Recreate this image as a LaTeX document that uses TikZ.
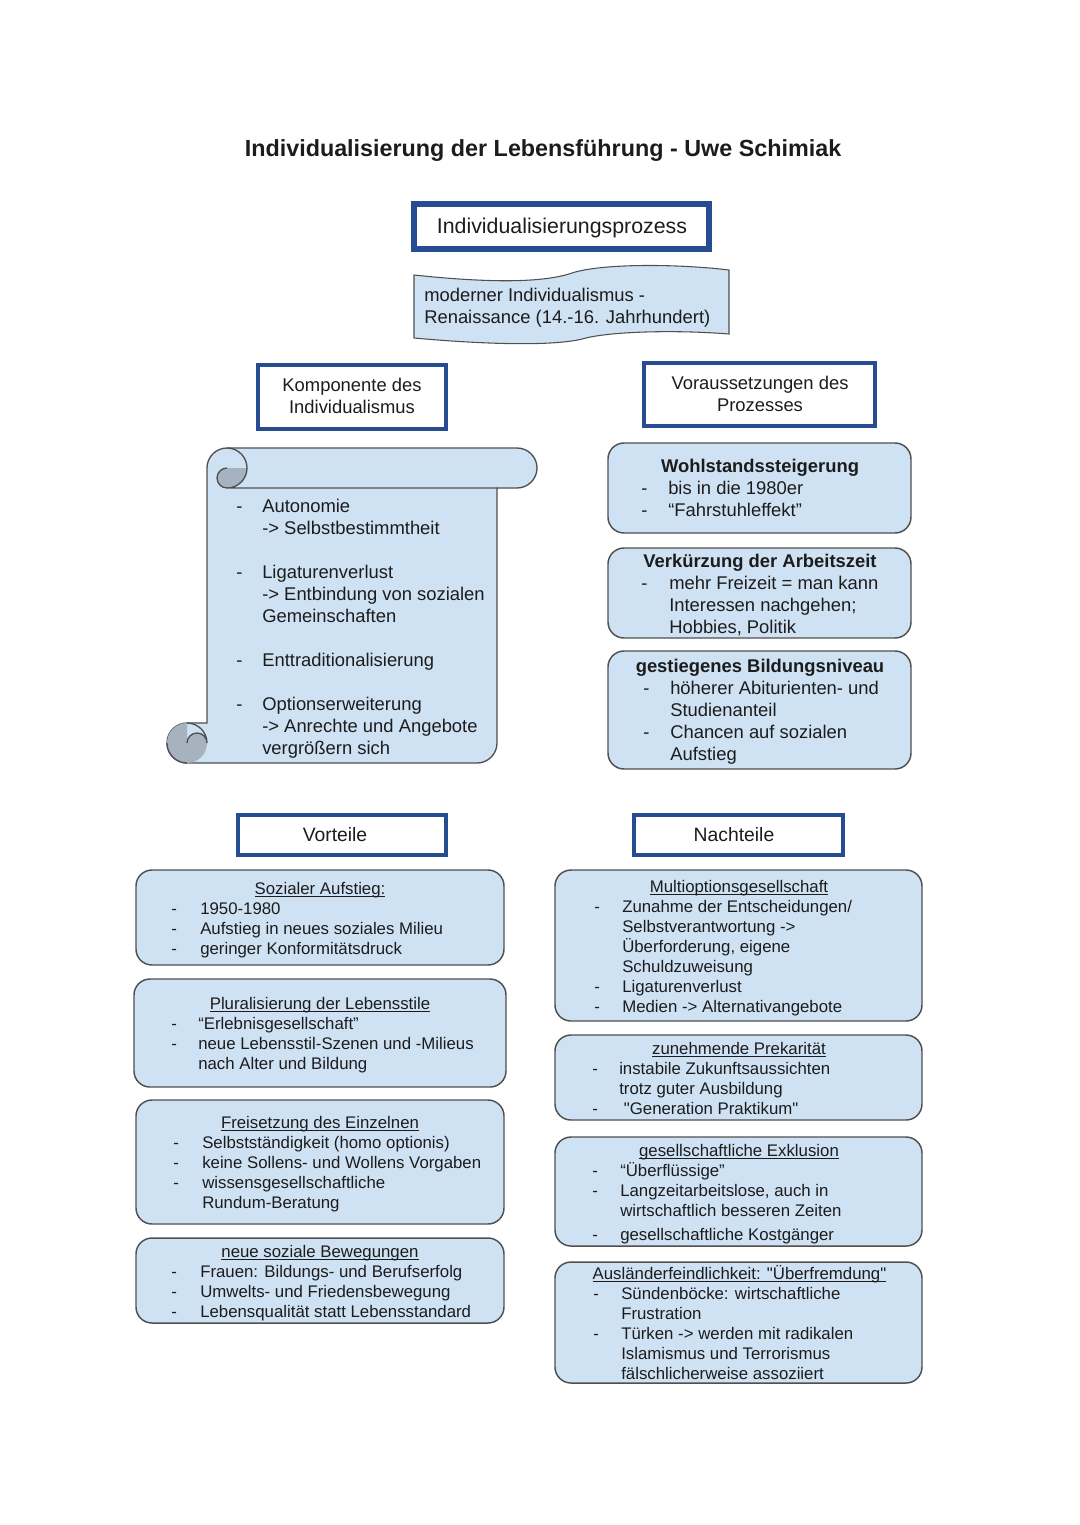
\documentclass[tikz,border=0pt]{standalone}
\usepackage{fontspec}
\setmainfont{Liberation Sans}[Ligatures=TeXOff]
\usepackage{tikz}

\definecolor{boxfill}{RGB}{207,226,243}
\definecolor{frameblue}{RGB}{38,76,146}
\definecolor{edgegray}{RGB}{80,80,80}
\definecolor{curlgray}{RGB}{166,178,192}
\definecolor{inkgray}{RGB}{28,28,28}

\newcommand{\titleline}[1]{\setbox0\hbox{#1}\rlap{\rule[-2pt]{\wd0}{0.7pt}}\box0}

\tikzset{
  headframe/.style={draw=frameblue, line width=3pt, fill=white},
  infobox/.style={draw=edgegray, line width=1.1pt, fill=boxfill, rounded corners=12pt},
  wavebox/.style={draw=edgegray, line width=0.8pt, fill=boxfill},
  scrollbody/.style={draw=edgegray, line width=1pt, fill=boxfill},
  scrolledge/.style={draw=edgegray, line width=1pt},
  bigtext/.style={font=\fontsize{13.8}{16.5}\selectfont, text=inkgray, inner sep=0pt},
  smalltext/.style={font=\fontsize{12.6}{15}\selectfont, text=inkgray, inner sep=0pt},
}

\begin{document}
\begin{tikzpicture}[x=0.75pt,y=0.75pt,yscale=-1,xscale=1]
\path [use as bounding box, fill=white] (0,0) rectangle (1080,1525);

% Text Node
\draw (543,156) node (title) [anchor=base][inner sep=0pt, text=inkgray] {\fontsize{17.5}{21}\selectfont\bfseries Individualisierung der Lebensführung - Uwe Schimiak};

%Shape: Rectangle
\draw [headframe, line width=4.5pt] (414,204) rectangle (709,249) ;
% Text Node
\draw (562,233.5) node (prozess) [anchor=base][inner sep=0pt, text=inkgray] {\fontsize{16}{19}\selectfont Individualisierungsprozess};

%Shape: Wave
\draw [wavebox] (414,275) .. controls (480,282) and (540,284) .. (572,273) .. controls (603,263) and (680,264) .. (729,270) -- (729,334) .. controls (680,330) and (615,331) .. (586,338) .. controls (556,347) and (480,344) .. (414,338) -- cycle ;
% Text Node
\draw (424,301) node (renaissance) [anchor=base west][bigtext] {\begin{tabular}[t]{@{}l@{}}moderner Individualismus -\\Renaissance (14.-16. Jahrhundert)\end{tabular}};

%Shape: Rectangle
\draw [headframe] (258,365) rectangle (446,429) ;
% Text Node
\draw (352,391.5) node (komponente) [anchor=base][bigtext] {\begin{tabular}[t]{@{}c@{}}Komponente des\\Individualismus\end{tabular}};

%Shape: Rectangle
\draw [headframe] (644,363) rectangle (875,426) ;
% Text Node
\draw (760,389.5) node (voraussetzung) [anchor=base][bigtext] {\begin{tabular}[t]{@{}c@{}}Voraussetzungen des\\Prozesses\end{tabular}};

%Shape: Vertical Scroll
\draw [scrollbody] (207,468) arc (180:270:20) -- (517,448) arc (270:450:20) -- (497,488) -- (497,743) arc (0:90:20) -- (187,763) arc (90:270:20) -- (207,723) -- cycle ;
\fill [curlgray] (247,468) arc (0:90:20) arc (90:270:10) -- cycle ;
\draw [scrolledge] (227,448) arc (270:450:20) -- (497,488) ;
\draw [scrolledge] (227,488) arc (90:270:10) ;
\fill [curlgray] (187,723) arc (270:0:20) arc (0:-180:10) -- cycle ;
\draw [scrolledge] (187,723) arc (270:360:20) arc (0:-180:10) ;
\draw [scrolledge] (167,743) arc (180:90:20) ;
% Text Node
\draw (236,512.5) node (komplist) [anchor=base west][bigtext] {\begin{tabular}[t]{@{}p{19.5pt}@{}l@{}}
- & Autonomie\\
 & -> Selbstbestimmtheit\\
 & \\
- & Ligaturenverlust\\
 & -> Entbindung von sozialen\\
 & Gemeinschaften\\
 & \\
- & Enttraditionalisierung\\
 & \\
- & Optionserweiterung\\
 & -> Anrechte und Angebote\\
 & vergrößern sich
\end{tabular}};

%Shape: Rounded Rect
\draw [infobox] (608,443) rectangle (911,533) ;
% Text Node
\draw (760,472.5) node (wohlstand) [anchor=base][bigtext] {\bfseries Wohlstandssteigerung};
% Text Node
\draw (641,494.5) node (wohlstandlist) [anchor=base west][bigtext] {\begin{tabular}[t]{@{}p{20.25pt}@{}l@{}}
- & bis in die 1980er\\
- & “Fahrstuhleffekt”
\end{tabular}};

%Shape: Rounded Rect
\draw [infobox] (608,548) rectangle (911,638) ;
% Text Node
\draw (760,567.5) node (arbeitszeit) [anchor=base][bigtext] {\bfseries Verkürzung der Arbeitszeit};
% Text Node
\draw (641,589.5) node (arbeitszeitlist) [anchor=base west][bigtext] {\begin{tabular}[t]{@{}p{21pt}@{}l@{}}
- & mehr Freizeit = man kann\\
 & Interessen nachgehen;\\
 & Hobbies, Politik
\end{tabular}};

%Shape: Rounded Rect
\draw [infobox] (608,651) rectangle (911,769) ;
% Text Node
\draw (760,672.5) node (bildung) [anchor=base][bigtext] {\bfseries gestiegenes Bildungsniveau};
% Text Node
\draw (643,694.5) node (bildunglist) [anchor=base west][bigtext] {\begin{tabular}[t]{@{}p{20.25pt}@{}l@{}}
- & höherer Abiturienten- und\\
 & Studienanteil\\
- & Chancen auf sozialen\\
 & Aufstieg
\end{tabular}};

%Shape: Rectangle
\draw [headframe] (238,815) rectangle (446,855) ;
% Text Node
\draw (335,841) node (vorteile) [anchor=base][inner sep=0pt, text=inkgray] {\fontsize{14.5}{17}\selectfont Vorteile};

%Shape: Rectangle
\draw [headframe] (634,815) rectangle (843,855) ;
% Text Node
\draw (734,841) node (nachteile) [anchor=base][inner sep=0pt, text=inkgray] {\fontsize{14.5}{17}\selectfont Nachteile};

%Shape: Rounded Rect
\draw [infobox] (136,870) rectangle (504,965) ;
% Text Node
\draw (320,894) node (aufstieg) [anchor=base][smalltext] {\titleline{Sozialer Aufstieg:}};
% Text Node
\draw (171,914) node (aufstieglist) [anchor=base west][smalltext] {\begin{tabular}[t]{@{}p{21.75pt}@{}l@{}}
- & 1950-1980\\
- & Aufstieg in neues soziales Milieu\\
- & geringer Konformitätsdruck
\end{tabular}};

%Shape: Rounded Rect
\draw [infobox] (134,979) rectangle (506,1087) ;
% Text Node
\draw (320,1009) node (lebensstile) [anchor=base][smalltext] {\titleline{Pluralisierung der Lebensstile}};
% Text Node
\draw (171,1029) node (lebensstilelist) [anchor=base west][smalltext] {\begin{tabular}[t]{@{}p{20.25pt}@{}l@{}}
- & “Erlebnisgesellschaft”\\
- & neue Lebensstil-Szenen und -Milieus\\
 & nach Alter und Bildung
\end{tabular}};

%Shape: Rounded Rect
\draw [infobox] (136,1100) rectangle (504,1224) ;
% Text Node
\draw (320,1128) node (freisetzung) [anchor=base][smalltext] {\titleline{Freisetzung des Einzelnen}};
% Text Node
\draw (173,1148) node (freisetzunglist) [anchor=base west][smalltext] {\begin{tabular}[t]{@{}p{21.75pt}@{}l@{}}
- & Selbstständigkeit (homo optionis)\\
- & keine Sollens- und Wollens Vorgaben\\
- & wissensgesellschaftliche\\
 & Rundum-Beratung
\end{tabular}};

%Shape: Rounded Rect
\draw [infobox] (136,1238) rectangle (504,1323) ;
% Text Node
\draw (320,1257) node (bewegungen) [anchor=base][smalltext] {\titleline{neue soziale Bewegungen}};
% Text Node
\draw (171,1277) node (bewegungenlist) [anchor=base west][smalltext] {\begin{tabular}[t]{@{}p{21.75pt}@{}l@{}}
- & Frauen: Bildungs- und Berufserfolg\\
- & Umwelts- und Friedensbewegung\\
- & Lebensqualität statt Lebensstandard
\end{tabular}};

%Shape: Rounded Rect
\draw [infobox] (555,870) rectangle (922,1021) ;
% Text Node
\draw (739,892) node (multioption) [anchor=base][smalltext] {\titleline{Multioptionsgesellschaft}};
% Text Node
\draw (594,912) node (multioptionlist) [anchor=base west][smalltext] {\begin{tabular}[t]{@{}p{21pt}@{}l@{}}
- & Zunahme der Entscheidungen/\\
 & Selbstverantwortung ->\\
 & Überforderung, eigene\\
 & Schuldzuweisung\\
- & Ligaturenverlust\\
- & Medien -> Alternativangebote
\end{tabular}};

%Shape: Rounded Rect
\draw [infobox] (555,1035) rectangle (922,1120) ;
% Text Node
\draw (739,1054) node (prekaritaet) [anchor=base][smalltext] {\titleline{zunehmende Prekarität}};
% Text Node
\draw (592,1074) node (prekaritaetlist) [anchor=base west][smalltext] {\begin{tabular}[t]{@{}p{20.25pt}@{}l@{}}
- & instabile Zukunftsaussichten\\
 & trotz guter Ausbildung\\
- & \hspace{3.5pt}"Generation Praktikum"
\end{tabular}};

%Shape: Rounded Rect
\draw [infobox] (555,1137) rectangle (922,1246) ;
% Text Node
\draw (739,1156) node (exklusion) [anchor=base][smalltext] {\titleline{gesellschaftliche Exklusion}};
% Text Node
\draw (592,1176) node (exklusionlist) [anchor=base west][smalltext] {\begin{tabular}[t]{@{}p{21pt}@{}l@{}}
- & “Überflüssige”\\
- & Langzeitarbeitslose, auch in\\
 & wirtschaftlich besseren Zeiten\\[3pt]
- & gesellschaftliche Kostgänger
\end{tabular}};

%Shape: Rounded Rect
\draw [infobox] (555,1262) rectangle (922,1383) ;
% Text Node
\draw (739.5,1279) node (fremdheit) [anchor=base][smalltext] {\titleline{Ausländerfeindlichkeit: "Überfremdung"}};
% Text Node
\draw (593,1299) node (fremdheitlist) [anchor=base west][smalltext] {\begin{tabular}[t]{@{}p{21pt}@{}l@{}}
- & Sündenböcke: wirtschaftliche\\
 & Frustration\\
- & Türken -> werden mit radikalen\\
 & Islamismus und Terrorismus\\
 & fälschlicherweise assoziiert
\end{tabular}};

\end{tikzpicture}
\end{document}
